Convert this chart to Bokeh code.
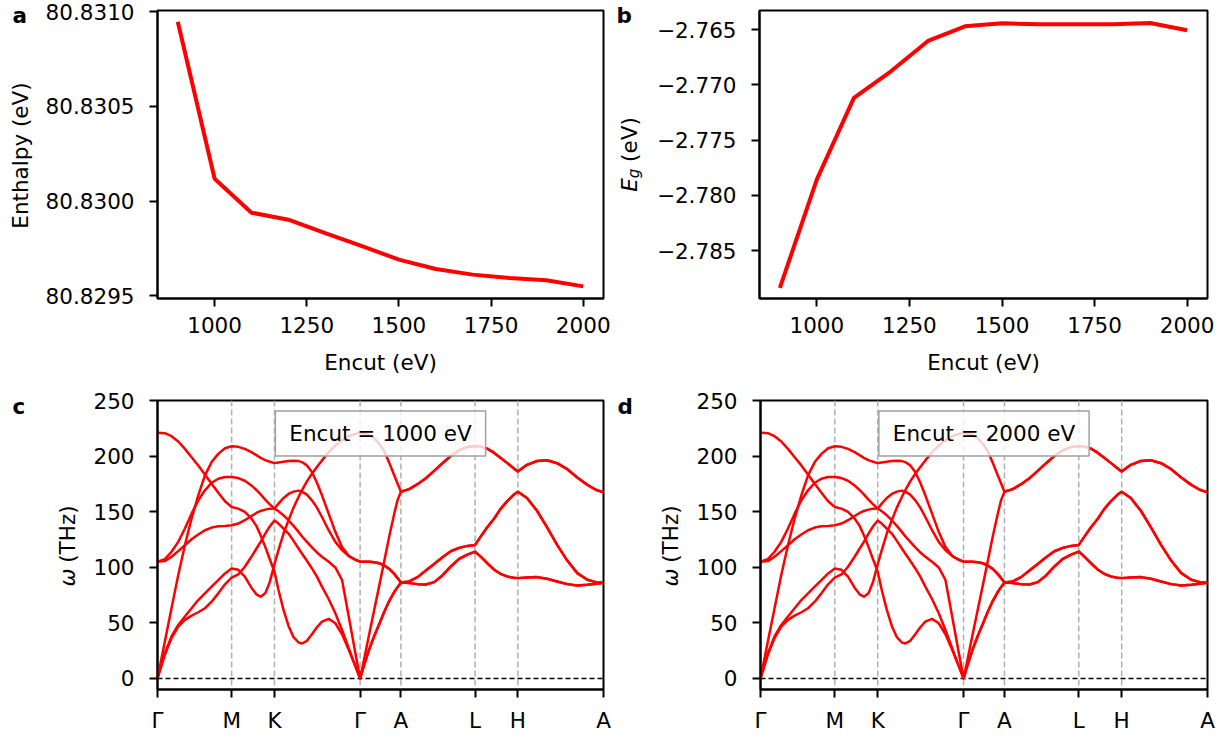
from math import pi
from bokeh.plotting import figure
from bokeh.layouts import column, row
from bokeh.models import Range1d, FixedTicker, Span, Label, PrintfTickFormatter
from bokeh.embed import file_html
from bokeh.resources import INLINE

# ---------------- data: convergence (panels a, b) ----------------
encut = [900, 1000, 1100, 1200, 1300, 1400, 1500, 1600, 1700, 1800, 1900, 2000]
enthalpy = [80.830947, 80.830118, 80.829939, 80.829902, 80.829831, 80.829763,
            80.829691, 80.829642, 80.829612, 80.829594, 80.829582, 80.829550]
gap = [-2.788373, -2.778554, -2.771175, -2.768765, -2.766024, -2.764699,
       -2.764428, -2.764518, -2.764518, -2.764518, -2.764398, -2.765060]
encut_ticks = [1000, 1250, 1500, 1750, 2000]
enthalpy_ticks = [80.8295, 80.8300, 80.8305, 80.8310]
gap_ticks = [-2.785, -2.780, -2.775, -2.770, -2.765]

# ---------------- data: phonon dispersion (panels c, d) ----------------
sym_pos = [0.0, 0.5774, 0.9107, 1.5774, 1.8950, 2.4724, 2.8057, 3.4724]
sym_labels = ["Γ", "M", "K", "Γ", "A", "L", "H", "A"]
freq_ticks = [0, 50, 100, 150, 200, 250]

q_path = [0.0000, 0.0572, 0.1092, 0.1613, 0.2133, 0.2653, 0.3173, 0.3693, 0.4213, 0.4733, 0.5254, 0.5774,
          0.6287, 0.6800, 0.7312, 0.7697, 0.8030, 0.8389, 0.8748, 0.9107,
          0.9420, 0.9810, 1.0201, 1.0592, 1.0982, 1.1242, 1.1633, 1.2024, 1.2414, 1.2805, 1.3326, 1.3846,
          1.4368, 1.4889, 1.5409, 1.5774,
          1.6087, 1.6477, 1.6867, 1.7258, 1.7648, 1.8039, 1.8429, 1.8690, 1.8950,
          1.9597, 2.0245, 2.0892, 2.1539, 2.2186, 2.2834, 2.3481, 2.4129, 2.4724,
          2.5160, 2.5673, 2.6186, 2.6698, 2.7211, 2.7724, 2.8057,
          2.8763, 2.9547, 3.0332, 3.1116, 3.1900, 3.2684, 3.3469, 3.4122, 3.4724]

band_1 = [0.0, 22.7, 37.7, 48.1, 55.6, 63.1, 70.5, 76.5, 82.5, 88.5, 94.4, 98.9,
          97.7, 91.5, 81.6, 75.6, 73.5, 76.5, 87.0, 102.8,
          115.4, 130.3, 142.3, 153.6, 163.2, 169.2, 177.2, 184.1, 190.1, 196.1, 203.5, 209.5,
          214.0, 217.9, 220.0, 221.0,
          220.1, 218.9, 216.0, 211.2, 204.6, 194.1, 182.8, 175.3, 167.9,
          170.3, 174.7, 180.1, 186.7, 193.6, 200.1, 205.2, 208.2, 209.1,
          208.5, 206.7, 203.1, 198.6, 193.9, 189.1, 186.1,
          192.1, 195.6, 196.2, 193.6, 188.2, 180.7, 174.1, 169.7, 167.3]
band_2 = [105.0, 107.3, 113.9, 122.8, 134.8, 148.2, 160.2, 169.2, 176.0, 179.6, 181.1, 181.1,
          180.2, 177.8, 173.6, 169.5, 165.6, 160.8, 156.6, 152.8,
          150.3, 146.7, 142.3, 137.2, 131.8, 127.9, 122.8, 117.8, 113.3, 109.4, 104.9, 99.8,
          88.5, 55.6, 22.7, 0.0,
          17.3, 39.4, 61.2, 83.0, 105.1, 127.5, 147.9, 160.4, 167.9,
          170.3, 174.7, 180.1, 186.7, 193.6, 200.1, 205.2, 208.2, 209.1,
          208.5, 206.7, 203.1, 198.6, 193.9, 189.1, 186.1,
          192.1, 195.6, 196.2, 193.6, 188.2, 180.7, 174.1, 169.7, 167.3]
band_3 = [0.0, 33.2, 63.1, 92.9, 119.8, 143.8, 164.7, 182.6, 194.6, 202.0, 207.1, 208.9,
          208.3, 206.5, 203.5, 200.8, 198.4, 196.4, 194.9, 193.7,
          194.3, 194.9, 195.5, 195.8, 195.5, 194.6, 191.6, 185.6, 176.0, 164.7, 148.2, 131.8,
          118.3, 110.3, 106.7, 105.0,
          105.0, 105.0, 104.5, 103.6, 101.5, 98.5, 94.0, 90.2, 86.2,
          87.2, 91.1, 97.1, 103.0, 109.0, 114.4, 117.4, 119.2, 120.1,
          127.5, 135.9, 143.4, 152.3, 159.2, 165.2, 167.9,
          162.2, 150.8, 135.9, 120.1, 106.0, 94.7, 88.7, 86.6, 86.0]
band_4 = [105.0, 105.5, 109.4, 114.5, 119.8, 125.2, 129.4, 133.3, 135.7, 136.9, 137.2, 137.8,
          139.3, 142.3, 146.1, 148.8, 150.6, 151.8, 152.7, 152.8,
          157.2, 162.3, 165.9, 168.0, 168.9, 168.0, 165.3, 160.2, 153.6, 145.2, 133.3, 122.8,
          115.4, 110.0, 106.7, 105.0,
          105.0, 105.0, 104.5, 103.6, 101.5, 98.5, 94.0, 90.2, 86.2,
          87.2, 91.1, 97.1, 103.0, 109.0, 114.4, 117.4, 119.2, 120.1,
          127.5, 135.9, 143.4, 152.3, 159.2, 165.2, 167.9,
          162.2, 150.8, 135.9, 120.1, 106.0, 94.7, 88.7, 86.6, 86.0]
band_5 = [221.0, 220.6, 217.9, 213.1, 206.5, 199.0, 191.6, 183.5, 175.1, 167.1, 159.3, 154.2,
          152.7, 149.7, 143.8, 137.2, 128.8, 118.3, 107.0, 95.9,
          79.5, 61.6, 47.2, 37.1, 32.3, 31.4, 33.8, 39.7, 46.0, 51.1, 53.5, 49.6,
          39.7, 25.7, 10.8, 0.0,
          11.9, 26.0, 37.9, 48.7, 59.7, 69.6, 77.7, 82.1, 86.2,
          85.7, 84.8, 84.5, 86.6, 92.6, 100.7, 107.5, 111.4, 114.1,
          109.6, 103.6, 98.0, 94.1, 91.7, 90.5, 90.2,
          90.8, 91.1, 89.6, 87.2, 84.8, 83.6, 84.2, 85.1, 86.0]
band_6 = [0.0, 21.2, 36.2, 46.6, 52.6, 56.5, 59.5, 63.1, 69.0, 76.5, 84.6, 90.6,
          93.5, 100.4, 109.4, 116.6, 122.8, 130.3, 136.9, 142.0,
          139.3, 134.8, 130.3, 123.7, 116.9, 112.4, 105.8, 98.9, 91.5, 82.5, 71.4, 58.6,
          43.6, 27.2, 10.8, 0.0,
          11.9, 26.0, 37.9, 48.7, 59.7, 69.6, 77.7, 82.1, 86.2,
          85.7, 84.8, 84.5, 86.6, 92.6, 100.7, 107.5, 111.4, 114.1,
          109.6, 103.6, 98.0, 94.1, 91.7, 90.5, 90.2,
          90.8, 91.1, 89.6, 87.2, 84.8, 83.6, 84.2, 85.1, 86.0]
bands = [band_1, band_2, band_3, band_4, band_5, band_6]
encut_labels = ["Encut = 1000 eV", "Encut = 2000 eV"]

# ---------------- styling ----------------
FONT = "DejaVu Sans"
FS = "21.5px"
RED = "#ff0000"


def make_fig(width, height, xr, yr, mbl, mbr, mbt, mbb):
    p = figure(width=width, height=height, x_range=xr, y_range=yr,
               output_backend="svg", toolbar_location=None, title=None,
               min_border_left=mbl, min_border_right=mbr,
               min_border_top=mbt, min_border_bottom=mbb)
    p.background_fill_color = "white"
    p.border_fill_color = "white"
    p.outline_line_color = "black"
    p.outline_line_width = 2
    p.xgrid.grid_line_color = None
    p.ygrid.grid_line_color = None
    for ax in (p.xaxis, p.yaxis):
        ax.axis_line_color = "black"
        ax.axis_line_width = 2
        ax.major_tick_line_color = "black"
        ax.major_tick_line_width = 2
        ax.major_tick_in = 0
        ax.major_tick_out = 8
        ax.minor_tick_line_color = None
        ax.major_label_text_font = FONT
        ax.major_label_text_font_size = FS
        ax.major_label_text_color = "black"
        ax.axis_label_text_font = FONT
        ax.axis_label_text_font_size = FS
        ax.axis_label_text_font_style = "normal"
        ax.axis_label_text_color = "black"
    p.xaxis.major_label_standoff = 10
    p.yaxis.major_label_standoff = 15
    p.xaxis.axis_label_standoff = 14
    return p


def strip(width, height):
    """Narrow text-only canvas holding a panel letter and a y-axis title."""
    s = figure(width=width, height=height, x_range=Range1d(0, width), y_range=Range1d(0, height),
               output_backend="svg", toolbar_location=None, title=None,
               x_axis_location=None, y_axis_location=None, min_border=0)
    s.frame_align = False
    s.outline_line_color = None
    s.background_fill_color = "white"
    s.border_fill_color = "white"
    s.xgrid.grid_line_color = None
    s.ygrid.grid_line_color = None
    return s


def txt(fig, x, y, text, size=FS, style="normal", angle=0.0, align="left"):
    fig.add_layout(Label(x=x, y=y, x_units="screen", y_units="screen", text=text, angle=angle,
                         text_font=FONT, text_font_size=size, text_font_style=style,
                         text_color="black", text_align=align, text_baseline="alphabetic"))


# ---- row 1 ----
sa = strip(35, 385)
txt(sa, 12, 370, "a", style="bold")
txt(sa, 20, 230, "Enthalpy (eV)", angle=pi / 2, align="center")

pa = make_fig(577, 385, Range1d(845, 2055), Range1d(80.829486, 80.831006), 122, 9, 10, 87)
pa.line(encut, enthalpy, line_color=RED, line_width=4, line_join="round")
pa.xaxis.ticker = FixedTicker(ticks=encut_ticks)
pa.yaxis.ticker = FixedTicker(ticks=enthalpy_ticks)
pa.yaxis.formatter = PrintfTickFormatter(format="%.4f")
pa.xaxis.axis_label = "Encut (eV)"

sb = strip(33, 385)
txt(sb, 4, 370.5, "b", style="bold")
txt(sb, 17, 193.7, "E", style="italic", angle=pi / 2)
txt(sb, 21, 207.3, "g", size="15px", style="italic", angle=pi / 2)
txt(sb, 17, 223.6, "(eV)", angle=pi / 2)

pb = make_fig(575, 385, Range1d(845, 2055), Range1d(-2.789338, -2.763265), 114, 13, 10, 87)
pb.line(encut, gap, line_color=RED, line_width=4, line_join="round")
pb.xaxis.ticker = FixedTicker(ticks=encut_ticks)
pb.yaxis.ticker = FixedTicker(ticks=gap_ticks)
pb.yaxis.major_label_overrides = {t: ("%.3f" % t).replace("-", "\u2212") for t in gap_ticks}
pb.xaxis.axis_label = "Encut (eV)"


# ---- row 2 ----
def phonon(width, mbl, mbr, label):
    p = make_fig(width, 350, Range1d(sym_pos[0], sym_pos[-1]), Range1d(-10, 250), mbl, mbr, 15, 44)
    for s in sym_pos[1:-1]:
        p.add_layout(Span(location=s, dimension="height", line_color="#b0b0b0",
                          line_dash="6 3", line_width=1.5, level="underlay"))
    p.add_layout(Span(location=0, dimension="width", line_color="black",
                      line_dash="5 3", line_width=1.5, level="underlay"))
    p.multi_line([q_path] * len(bands), bands, line_color=RED, line_width=2.5, line_join="round")
    p.xaxis.ticker = FixedTicker(ticks=sym_pos)
    p.xaxis.major_label_overrides = {s: l for s, l in zip(sym_pos, sym_labels)}
    p.yaxis.ticker = FixedTicker(ticks=freq_ticks)
    p.add_layout(Label(x=(sym_pos[0] + sym_pos[-1]) / 2, y=220.4, text=label,
                       text_font=FONT, text_font_size=FS, text_color="black",
                       text_align="center", text_baseline="middle",
                       background_fill_color="white", background_fill_alpha=0.8,
                       border_line_color="#a0a0a0", border_line_width=1.5, padding=(14, 10)))
    return p


sc = strip(80, 350)
txt(sc, 12, 329, "c", style="bold")
txt(sc, 67, 148.9, "ω", style="italic", angle=pi / 2)
txt(sc, 67, 172.7, "(THz)", angle=pi / 2)
pc = phonon(532, 77, 9, encut_labels[0])

sd = strip(78, 350)
txt(sd, 5, 329, "d", style="bold")
txt(sd, 58, 148.9, "ω", style="italic", angle=pi / 2)
txt(sd, 58, 172.7, "(THz)", angle=pi / 2)
pd = phonon(530, 70, 13, encut_labels[1])

layout = column(row(sa, pa, sb, pb), row(sc, pc, sd, pd))
open("out.html", "w").write(file_html(layout, INLINE))
